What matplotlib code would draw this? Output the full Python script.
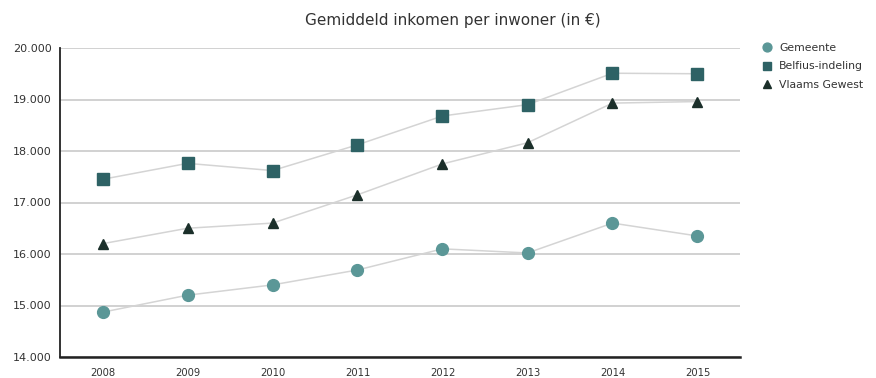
import matplotlib
matplotlib.use("Agg")
import matplotlib.pyplot as plt
from matplotlib.ticker import FuncFormatter

years = ["2008", "2009", "2010", "2011", "2012", "2013", "2014", "2015"]
gemeente = [14870, 15200, 15400, 15690, 16100, 16020, 16600, 16350]
belfius = [17450, 17760, 17620, 18120, 18680, 18900, 19510, 19500]
vlaams = [16200, 16500, 16600, 17150, 17750, 18160, 18930, 18960]

title = "Gemiddeld inkomen per inwoner (in €)"
series_labels = ["Gemeente", "Belfius-indeling", "Vlaams Gewest"]

plt.rcParams["font.family"] = ["DejaVu Sans"]

fig = plt.figure(figsize=(8.76, 3.78), dpi=100)
ax = fig.add_axes([60 / 876, 1 - 357 / 378, 680 / 876, 309 / 378])

x = list(range(len(years)))
line_color = "#d4d4d4"
styles = [
    (gemeente, "o", "#5b9797", 8.5),
    (belfius, "s", "#2e6265", 8),
    (vlaams, "^", "#1b2f2a", 7.5),
]
handles = []
for (vals, marker, color, ms), label in zip(styles, series_labels):
    ax.plot(x, vals, color=line_color, lw=1.1, zorder=2)
    h, = ax.plot(x, vals, ls="none", marker=marker, ms=ms, color=color,
                 markeredgecolor=color, zorder=3, label=label)
    handles.append(h)

ax.set_xlim(-0.5, len(years) - 0.5)
ax.set_ylim(14000, 20000)
ax.set_yticks(range(14000, 20001, 1000))
ax.yaxis.set_major_formatter(FuncFormatter(lambda v, p: f"{int(v):,}".replace(",", ".")))
ax.set_xticks(x)
ax.set_xticklabels(years)

ax.grid(axis="y", color="#c9c9c9", lw=1.2, zorder=0)
ax.set_axisbelow(True)
for s in ("top", "right"):
    ax.spines[s].set_visible(False)
ax.spines["left"].set_color("#222222")
ax.spines["left"].set_linewidth(1.3)
ax.spines["bottom"].set_color("#222222")
ax.spines["bottom"].set_linewidth(1.8)
ax.tick_params(axis="y", length=0, labelsize=8, labelcolor="#333333", pad=6)
ax.tick_params(axis="x", length=0, labelsize=7.2, labelcolor="#333333", pad=8)

fig.text(453 / 876, 1 - 20 / 378, title, ha="center", va="center",
         fontsize=11, color="#333333")

fig.legend(handles=handles, loc="upper left", bbox_to_anchor=(762 / 876, 1 - 43 / 378),
           frameon=False, fontsize=7.8, handlelength=1.0, handletextpad=0.6,
           labelspacing=0.78, borderaxespad=0, borderpad=0, markerscale=0.75,
           labelcolor="#333333")

fig.savefig("out.png", dpi=100)
